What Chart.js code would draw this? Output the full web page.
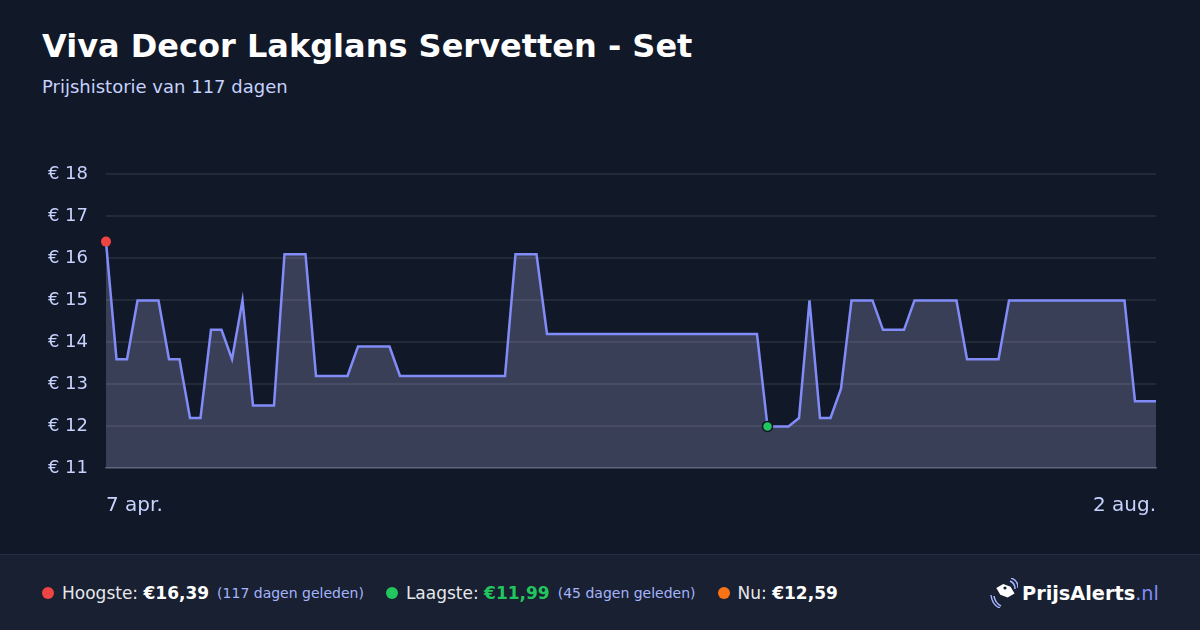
<!DOCTYPE html>
<html>
<head>
<meta charset="utf-8">
<script src="https://cdn.jsdelivr.net/npm/chart.js@4/dist/chart.umd.min.js"></script>
<style>
  html, body { margin: 0; padding: 0; }
  body { width: 1200px; height: 630px; background: #111827; position: relative; overflow: hidden; font-family: "DejaVu Sans", sans-serif; }
  .title { position: absolute; left: 42px; top: 27px; color: #ffffff; font-weight: bold; font-size: 32px; white-space: nowrap; }
  .subtitle { position: absolute; left: 42px; top: 76px; color: #c7d2fe; font-size: 18px; white-space: nowrap; }
  .wrap { position: absolute; left: 0; top: 141px; width: 1200px; height: 400px; }
  .footer { position: absolute; left: 0; top: 554px; width: 1200px; height: 76px; background: #182031; border-top: 1px solid #222c48; box-sizing: border-box; }
  .stats { position: absolute; left: 42px; top: 28px; display: flex; align-items: center; color: #e5e7eb; font-size: 17px; white-space: nowrap; }
  .dot { display: inline-block; width: 12px; height: 12px; border-radius: 50%; margin-right: 8px; }
  .stats b { color: #ffffff; }
  .ago { color: #a5b4fc; font-size: 14px; margin-left: 8px; }
  .item { display: flex; align-items: center; margin-right: 22px; }
  .logo { position: absolute; left: 990px; top: 23px; display: flex; align-items: center; font-size: 19.3px; white-space: nowrap; }
  .logo b { color: #ffffff; }
  .logo span { color: #818cf8; }
</style>
</head>
<body>
<div class="title">Viva Decor Lakglans Servetten - Set</div>
<div class="subtitle">Prijshistorie van 117 dagen</div>
<div class="wrap"><canvas id="priceChart"></canvas></div>
<div class="footer">
  <div class="stats">
    <div class="item"><span class="dot" style="background:#ef4444"></span>Hoogste:&nbsp;<b>€16,39</b><span class="ago">(117 dagen geleden)</span></div>
    <div class="item"><span class="dot" style="background:#22c55e"></span>Laagste:&nbsp;<b style="color:#22c55e">€11,99</b><span class="ago">(45 dagen geleden)</span></div>
    <div class="item"><span class="dot" style="background:#f97316"></span>Nu:&nbsp;<b>€12,59</b></div>
  </div>
  <div class="logo">
    <svg width="28" height="30" viewBox="0 0 28 30">
      <path d="M9 6 L17 6 L22 12 L22 20 L14 20 L9 14 Z" fill="#ffffff" transform="rotate(-30 15 13)"/>
      <circle cx="15" cy="10" r="1.6" fill="#182031"/>
      <path d="M4 18 Q5 25 11 28" stroke="#a5b4fc" stroke-width="1.6" fill="none"/>
      <path d="M1 17 Q2 27 10 30" stroke="#a5b4fc" stroke-width="1.4" fill="none"/>
      <path d="M20 3 Q25 5 25 11" stroke="#a5b4fc" stroke-width="1.6" fill="none"/>
      <path d="M21 0 Q28 2 28 10" stroke="#a5b4fc" stroke-width="1.4" fill="none"/>
    </svg>
    <b style="margin-left:4px">PrijsAlerts</b><span>.nl</span>
  </div>
</div>
<script>
document.addEventListener('DOMContentLoaded', () => {
	// price per sample
	const prices = [
		16.39, 13.59, 13.59, 14.99, 14.99, 14.99, 13.59, 13.59, 12.19, 12.19,
		14.29, 14.29, 13.59, 14.99, 12.49, 12.49, 12.49, 16.09, 16.09, 16.09,
		13.19, 13.19, 13.19, 13.19, 13.89, 13.89, 13.89, 13.89, 13.19, 13.19,
		13.19, 13.19, 13.19, 13.19, 13.19, 13.19, 13.19, 13.19, 13.19, 16.09,
		16.09, 16.09, 14.19, 14.19, 14.19, 14.19, 14.19, 14.19, 14.19, 14.19,
		14.19, 14.19, 14.19, 14.19, 14.19, 14.19, 14.19, 14.19, 14.19, 14.19,
		14.19, 14.19, 14.19, 11.99, 11.99, 11.99, 12.19, 14.99, 12.19, 12.19,
		12.89, 14.99, 14.99, 14.99, 14.29, 14.29, 14.29, 14.99, 14.99, 14.99,
		14.99, 14.99, 13.59, 13.59, 13.59, 13.59, 14.99, 14.99, 14.99, 14.99,
		14.99, 14.99, 14.99, 14.99, 14.99, 14.99, 14.99, 14.99, 12.59, 12.59,
		12.59
	]
	const firstLabel = '7 apr.'
	const lastLabel = '2 aug.'
	const highIndex = 0
	const lowIndex = 63

	var labels = prices.map((p, i) => i === 0 ? firstLabel : (i === prices.length - 1 ? lastLabel : ''))

	var ctx = document.getElementById('priceChart').getContext('2d')
	var priceChart = new Chart(ctx, {
		type: 'line',
		data: {
			labels: labels,
			datasets: [{
				data: prices,
				borderColor: '#818cf8',
				borderWidth: 2.5,
				backgroundColor: 'rgba(157,154,202,0.3)',
				fill: 'start',
				tension: 0,
				pointRadius: (c) => (c.dataIndex === highIndex || c.dataIndex === lowIndex) ? 5 : 0,
				pointBackgroundColor: (c) => c.dataIndex === highIndex ? '#ef4444' : '#22c55e',
				pointBorderColor: (c) => c.dataIndex === highIndex ? '#ef4444' : '#111827',
				pointBorderWidth: (c) => c.dataIndex === highIndex ? 0 : 1.5,
			}],
		},
		options: {
			responsive: true,
			maintainAspectRatio: false,
			animation: false,
			layout: { padding: { top: 33, right: 44, left: 0, bottom: 0 } },
			plugins: {
				legend: { display: false },
				tooltip: { enabled: false },
			},
			scales: {
				x: {
					grid: { display: false, drawTicks: false },
					border: { display: true, color: '#4b5060', width: 1.5 },
					afterFit: (scale) => { scale.height = 73 },
					ticks: {
						autoSkip: false,
						maxRotation: 0,
						align: 'inner',
						padding: 26,
						color: '#c7d2fe',
						font: { family: 'DejaVu Sans', size: 20 },
						callback: function (v, i) { return labels[i] || null },
					},
				},
				y: {
					min: 11,
					max: 18,
					afterFit: (scale) => { scale.width = 106 },
					grid: { color: 'rgba(255,255,255,0.08)', lineWidth: 2, drawTicks: false },
					border: { display: false },
					ticks: {
						stepSize: 1,
						padding: 18,
						color: '#c7d2fe',
						font: { family: 'DejaVu Sans', size: 18 },
						callback: (v) => '€ ' + v,
					},
				},
			},
		},
	})
})
</script>
</body>
</html>
